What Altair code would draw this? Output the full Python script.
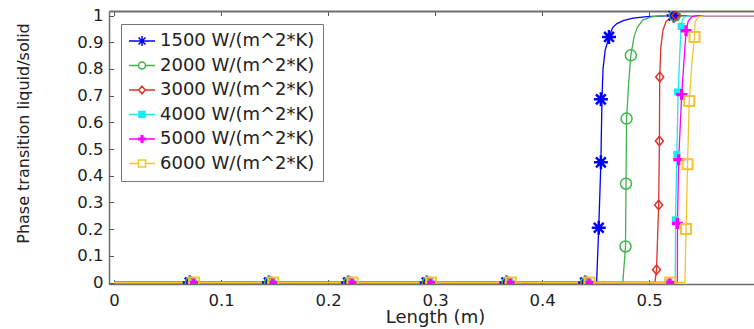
import altair as alt
import pandas as pd

series = ["1500 W/(m^2*K)", "2000 W/(m^2*K)", "3000 W/(m^2*K)",
          "4000 W/(m^2*K)", "5000 W/(m^2*K)", "6000 W/(m^2*K)"]
colors = ["#0000ff", "#3db54a", "#e0302a", "#1ee8f0", "#ff00ff", "#f5c431"]

# curve points
x1500 = [0, 0.451, 0.453, 0.455, 0.456, 0.457, 0.459, 0.4626, 0.466, 0.470, 0.476, 0.485, 0.498, 0.52, 0.61]
y1500 = [0, 0, 0.205, 0.45, 0.686, 0.80, 0.87, 0.92, 0.955, 0.970, 0.981, 0.99, 0.996, 1.0, 1.0]
x2000 = [0, 0.4755, 0.478, 0.4785, 0.479, 0.481, 0.483, 0.486, 0.489, 0.494, 0.502, 0.512, 0.61]
y2000 = [0, 0, 0.135, 0.37, 0.614, 0.75, 0.851, 0.92, 0.955, 0.983, 0.995, 1.0, 1.0]
x3000 = [0, 0.5055, 0.507, 0.509, 0.5097, 0.510, 0.511, 0.513, 0.516, 0.521, 0.53, 0.61]
y3000 = [0, 0, 0.048, 0.29, 0.53, 0.77, 0.88, 0.945, 0.978, 0.995, 1.0, 1.0]
x4000 = [0, 0.5245, 0.5248, 0.526, 0.5272, 0.529, 0.530, 0.5315, 0.534, 0.538, 0.61]
y4000 = [0, 0, 0.235, 0.48, 0.714, 0.88, 0.959, 0.987, 0.996, 1.0, 1.0]
x5000 = [0, 0.5265, 0.5266, 0.5277, 0.5305, 0.533, 0.5346, 0.5367, 0.540, 0.5445, 0.61]
y5000 = [0, 0, 0.221, 0.46, 0.704, 0.85, 0.943, 0.98, 0.995, 1.0, 1.0]
x6000 = [0, 0.5335, 0.5346, 0.536, 0.5376, 0.540, 0.5425, 0.543, 0.546, 0.5523, 0.61]
y6000 = [0, 0, 0.2, 0.443, 0.68, 0.82, 0.92, 0.975, 0.995, 1.0, 1.0]

# marker positions
mx1500 = [0.0708, 0.1448, 0.2188, 0.2923, 0.3668, 0.4403, 0.453, 0.455, 0.455, 0.4626, 0.523]
my1500 = [0, 0, 0, 0, 0, 0, 0.205, 0.45, 0.686, 0.92, 1.0]
mx2000 = [0.0718, 0.1458, 0.2198, 0.2933, 0.3678, 0.4413, 0.478, 0.4785, 0.479, 0.483, 0.524]
my2000 = [0, 0, 0, 0, 0, 0, 0.135, 0.37, 0.614, 0.851, 1.0]
mx3000 = [0.0728, 0.1468, 0.2208, 0.2943, 0.3688, 0.4423, 0.507, 0.509, 0.5097, 0.510, 0.525]
my3000 = [0, 0, 0, 0, 0, 0, 0.048, 0.29, 0.53, 0.77, 1.0]
mx4000 = [0.0738, 0.1478, 0.2218, 0.2953, 0.3698, 0.4433, 0.5188, 0.5246, 0.526, 0.5265, 0.530]
my4000 = [0, 0, 0, 0, 0, 0, 0, 0.235, 0.48, 0.714, 0.959]
mx5000 = [0.0743, 0.1483, 0.2223, 0.2958, 0.3703, 0.4438, 0.5193, 0.5265, 0.5277, 0.5305, 0.5346]
my5000 = [0, 0, 0, 0, 0, 0, 0, 0.221, 0.46, 0.704, 0.943]
mx6000 = [0.0748, 0.1488, 0.2228, 0.2963, 0.3708, 0.4443, 0.5198, 0.5346, 0.536, 0.5376, 0.5425]
my6000 = [0, 0, 0, 0, 0, 0, 0, 0.2, 0.443, 0.68, 0.92]

x_ticks = [0, 0.1, 0.2, 0.3, 0.4, 0.5]
y_ticks = [0, 0.1, 0.2, 0.3, 0.4, 0.5, 0.6, 0.7, 0.8, 0.9, 1]

curves = [(x1500, y1500), (x2000, y2000), (x3000, y3000),
          (x4000, y4000), (x5000, y5000), (x6000, y6000)]
markers = [(mx1500, my1500), (mx2000, my2000), (mx3000, my3000),
           (mx4000, my4000), (mx5000, my5000), (mx6000, my6000)]

rows = []
for s, (xs, ys) in zip(series, curves):
    for i, (a, b) in enumerate(zip(xs, ys)):
        rows.append({"series": s, "x": a, "y": b, "idx": i})
line_df = pd.DataFrame(rows)

mrows = []
for s, (xs, ys) in zip(series, markers):
    for a, b in zip(xs, ys):
        mrows.append({"series": s, "x": a, "y": b})
mark_df = pd.DataFrame(mrows)

# marker styles on the plot
chart_shapes = [
    "M-1,0H1M0,-1V1M-0.7,-0.7L0.7,0.7M-0.7,0.7L0.7,-0.7",
    "circle",
    "M0,-1.2L1,0L0,1.2L-1,0Z",
    "square",
    "M-0.3,-1H0.3V-0.3H1V0.3H0.3V1H-0.3V0.3H-1V-0.3H-0.3Z",
    "square",
]
chart_sizes = [196, 121, 64, 49, 121, 100]
chart_filled = [False, False, False, True, True, False]
chart_sw = [2.5, 1.5, 1.5, 1, 1, 2]

# legend symbols: line with marker
legend_paths = [
    "M-1.8,0H3.4M0.8,-1V1M0.1,-0.7L1.5,0.7M0.1,0.7L1.5,-0.7",
    "M-1.8,0H0.1M1.5,0H3.4M0.1,0A0.7,0.7 0 1,0 1.5,0A0.7,0.7 0 1,0 0.1,0",
    "M-1.8,0H0.15M1.45,0H3.4M0.8,-0.75L1.45,0L0.8,0.75L0.15,0Z",
    "M-1.8,0H3.4M0.2,-0.6H1.4V0.6H0.2ZM0.4,-0.4H1.2V0.4H0.4ZM0.6,-0.2H1V0.2H0.6Z",
    "M-1.8,0H3.4M0.65,-0.8V0.8M0.95,-0.8V0.8M0,-0.15H1.6M0,0.15H1.6",
    "M-1.8,0H0.1M1.5,0H3.4M0.1,-0.7H1.5V0.7H0.1Z",
]

FONT = "DejaVu Sans"
TXT = "#222222"
FRAME = "#6e6e6e"
W, H = 645, 273

xscale = alt.Scale(domain=[-0.0047, 0.5981], nice=False, zero=False)
yscale = alt.Scale(domain=[-0.0056, 1.017], nice=False, zero=False)
cscale = alt.Scale(domain=series, range=colors)

main_x_axis = alt.Axis(
    orient="bottom", values=x_ticks, format="~g", ticks=False, tickSize=0,
    domain=True, domainColor=FRAME, domainWidth=1.5, grid=False,
    labelFont=FONT, labelFontSize=16.5, labelColor=TXT, labelBaseline="alphabetic",
    labelPadding=21, labelFlush=False, labelOverlap=False,
    title="Length (m)", titleFont=FONT, titleFontSize=18, titleFontWeight="normal",
    titleColor=TXT, titleX=326, titleY=38, titleBaseline="alphabetic")
main_y_axis = alt.Axis(
    orient="left", values=y_ticks, format="~g", ticks=False, tickSize=0,
    domain=True, domainColor=FRAME, domainWidth=1.5, grid=False,
    labelFont=FONT, labelFontSize=16.5, labelColor=TXT, labelPadding=6,
    labelFlush=False, labelOverlap=False,
    title="Phase transition liquid/solid", titleFont=FONT, titleFontSize=16,
    titleFontWeight="normal", titleColor=TXT, titleX=-86, titleY=122,
    titleAngle=-90, titleAlign="center", titleBaseline="middle")

line_layers = []
for i, s in enumerate(series):
    line_layers.append(
        alt.Chart(line_df).transform_filter(alt.datum.series == s).mark_line(
            strokeWidth=1.3, clip=True, color=colors[i]
        ).encode(
            x=alt.X("x:Q", scale=xscale, axis=main_x_axis if i == 0 else None),
            y=alt.Y("y:Q", scale=yscale, axis=main_y_axis if i == 0 else None),
            order=alt.Order("idx:Q"),
        )
    )

pts = []
for i, s in enumerate(series):
    pts.append(
        alt.Chart(mark_df).transform_filter(alt.datum.series == s).mark_point(
            shape=chart_shapes[i], size=chart_sizes[i], filled=chart_filled[i],
            strokeWidth=chart_sw[i], opacity=1, clip=True, color=colors[i],
        ).encode(
            x=alt.X("x:Q", scale=xscale, axis=None),
            y=alt.Y("y:Q", scale=yscale, axis=None),
        )
    )

leg = alt.Legend(
    orient="none", legendX=12, legendY=13, title=None,
    labelFont=FONT, labelFontSize=18, labelColor=TXT, labelLimit=400,
    labelOffset=13, symbolSize=100, symbolStrokeWidth=1.5, symbolOpacity=1,
    padding=8, rowPadding=6.5, strokeColor="#777777", fillColor="white",
)

# invisible layer that carries the legend and the inward tick marks
legend_layer = alt.Chart(mark_df).mark_point(
    filled=False, strokeWidth=1.5, opacity=0
).encode(
    x=alt.X("x:Q", scale=xscale, axis=alt.Axis(
        orient="top", offset=-H, values=x_ticks, labels=False, domain=False,
        grid=False, ticks=True, tickSize=4.5, tickColor="#555555", title=None)),
    y=alt.Y("y:Q", scale=yscale, axis=alt.Axis(
        orient="right", offset=-W, values=y_ticks, labels=False, domain=False,
        grid=False, ticks=True, tickSize=4.5, tickColor="#555555", title=None)),
    color=alt.Color("series:N", scale=cscale, legend=leg),
    shape=alt.Shape("series:N", scale=alt.Scale(domain=series, range=legend_paths),
                    legend=leg),
)

top_layer = alt.Chart(mark_df).mark_point(opacity=0).encode(
    x=alt.X("x:Q", scale=xscale, axis=alt.Axis(
        orient="bottom", offset=-H, values=x_ticks, labels=False, domain=True,
        domainColor=FRAME, domainWidth=2, grid=False, ticks=True, tickSize=4.5,
        tickColor="#555555", title=None)),
    y=alt.Y("y:Q", scale=yscale, axis=None),
)

chart = alt.layer(*line_layers, *pts, legend_layer, top_layer).resolve_axis(
    x="independent", y="independent"
).properties(
    width=W, height=H,
    padding={"left": 109, "top": 11, "right": 0, "bottom": 45},
    autosize=alt.AutoSizeParams(type="none"),
    background="white",
).configure_view(strokeWidth=0).configure(font=FONT)

chart.save("out.html", embed_options={"renderer": "svg", "actions": False})
